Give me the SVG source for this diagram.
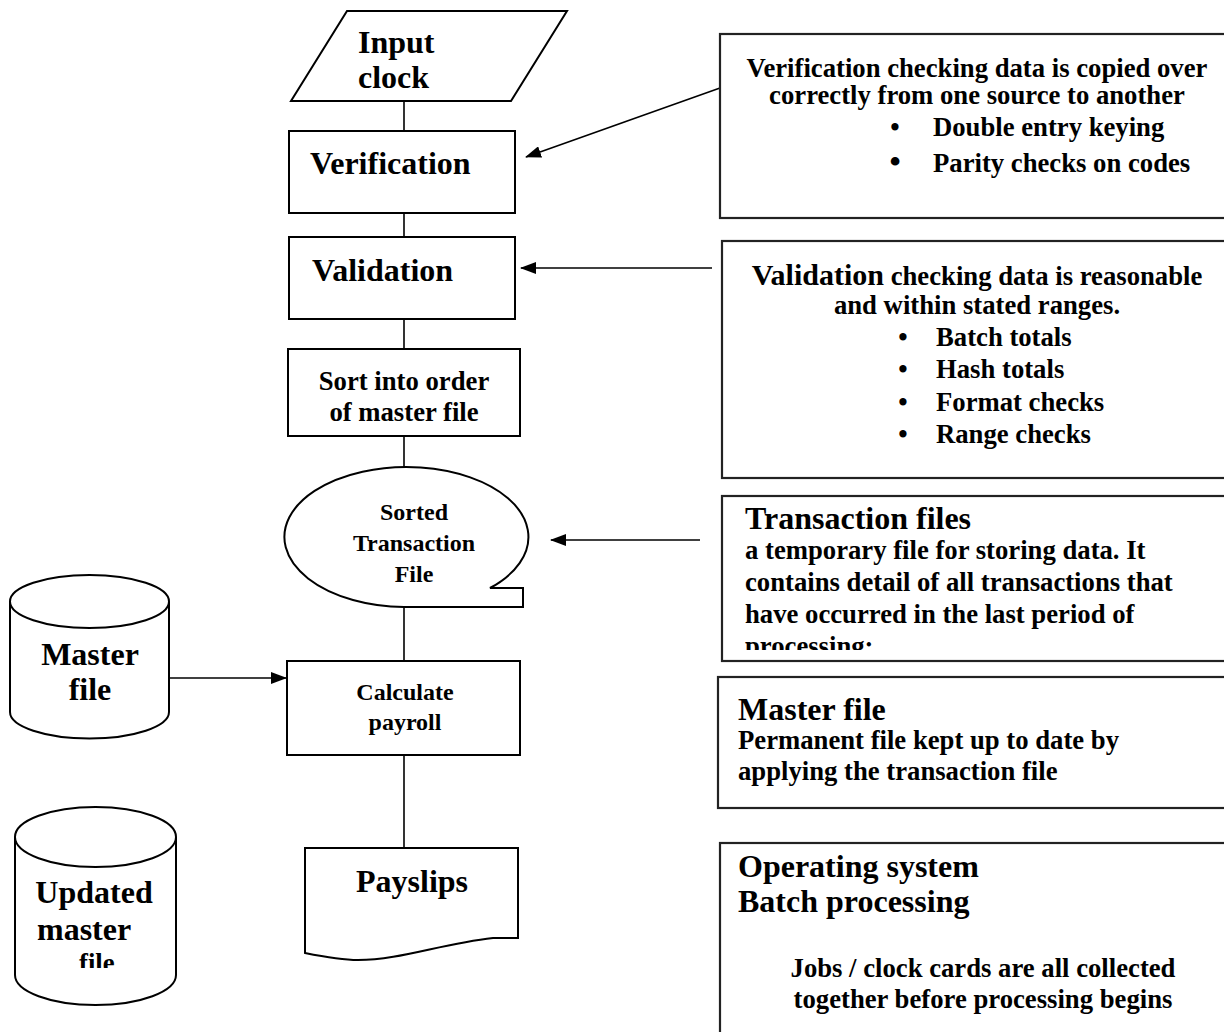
<svg xmlns="http://www.w3.org/2000/svg" width="1224" height="1032" viewBox="0 0 1224 1032">
<style>
.s{fill:#fff;stroke:#000;stroke-width:2}
.b{fill:#fff;stroke:#222;stroke-width:2.2}
.c{fill:none;stroke:#000;stroke-width:1.6}
text{font-family:"Liberation Serif","Times New Roman",serif;font-weight:bold;fill:#000}
.n{font-size:32px}
.m{font-size:26.7px}
.sm{font-size:24px}
.mid{text-anchor:middle}
</style>
<defs>
<marker id="ah" markerWidth="16" markerHeight="12" refX="15" refY="6" orient="auto" markerUnits="userSpaceOnUse">
<path d="M0,0 L16,6 L0,12 Z" fill="#000"/>
</marker>
<clipPath id="clipUpd"><rect x="0" y="800" width="200" height="168"/></clipPath>
<clipPath id="clipTr"><rect x="700" y="490" width="524" height="160"/></clipPath>
</defs>
<rect width="1224" height="1032" fill="#fff"/>

<g id="connectors">
<line class="c" x1="404" y1="101" x2="404" y2="131"/>
<line class="c" x1="404" y1="213" x2="404" y2="237"/>
<line class="c" x1="404" y1="319" x2="404" y2="349"/>
<line class="c" x1="404" y1="436" x2="404" y2="467"/>
<line class="c" x1="404" y1="607" x2="404" y2="661"/>
<line class="c" x1="404" y1="755" x2="404" y2="848"/>
<line class="c" x1="170" y1="678" x2="286" y2="678" marker-end="url(#ah)"/>
<line class="c" x1="720" y1="88" x2="526" y2="157" marker-end="url(#ah)"/>
<line class="c" x1="712" y1="268" x2="521" y2="268" marker-end="url(#ah)"/>
<line class="c" x1="700" y1="540" x2="551" y2="540" marker-end="url(#ah)"/>
</g>

<g id="input-clock">
<polygon class="s" points="347,11 567,11 511,101 291,101"/>
<text class="n" x="358" y="53">Input</text>
<text class="n" x="358" y="88">clock</text>
</g>

<g id="verification">
<rect class="s" x="289" y="131" width="226" height="82"/>
<text class="n" x="310" y="174">Verification</text>
</g>

<g id="validation">
<rect class="s" x="289" y="237" width="226" height="82"/>
<text class="n" x="312" y="281">Validation</text>
</g>

<g id="sort">
<rect class="s" x="288" y="349" width="232" height="87"/>
<text class="m mid" x="404" y="390">Sort into order</text>
<text class="m mid" x="404" y="421">of master file</text>
</g>

<g id="sorted-transaction-file">
<path class="s" d="M404,607 A122,70 0 1 1 490,588 L523,588 L523,607 Z"/>
<text class="sm mid" x="414" y="520">Sorted</text>
<text class="sm mid" x="414" y="551">Transaction</text>
<text class="sm mid" x="414" y="582">File</text>
</g>

<g id="master-file">
<path class="s" d="M10,601.5 L10,712 A79.5,26.5 0 0 0 169,712 L169,601.5"/>
<ellipse class="s" cx="89.5" cy="601.5" rx="79.5" ry="26.5"/>
<text class="n mid" x="90" y="665">Master</text>
<text class="n mid" x="90" y="700">file</text>
</g>

<g id="calculate-payroll">
<rect class="s" x="287" y="661" width="233" height="94"/>
<text class="sm mid" x="405" y="700">Calculate</text>
<text class="sm mid" x="405" y="730">payroll</text>
</g>

<g id="payslips">
<path class="s" d="M305,848 L518,848 L518,938 L493,938 C440,944 400,960 358,960 C340,960 320,956 305,953 Z"/>
<text class="n mid" x="412" y="892">Payslips</text>
</g>

<g id="updated-master-file">
<path class="s" d="M15,837 L15,975 A80.5,30 0 0 0 176,975 L176,837"/>
<ellipse class="s" cx="95.5" cy="837" rx="80.5" ry="30"/>
<text class="n mid" x="94" y="903">Updated</text>
<text class="n" x="37" y="940">master</text>
<g clip-path="url(#clipUpd)"><text class="m" x="79" y="972">file</text></g>
</g>

<g id="note-verification">
<rect class="b" x="720" y="34" width="600" height="184"/>
<text class="m mid" x="977" y="77">Verification checking data is copied over</text>
<text class="m mid" x="977" y="104">correctly from one source to another</text>
<text class="m mid" x="895" y="136">•</text>
<text class="m" x="933" y="136">Double entry keying</text>
<text class="m mid" x="895" y="172" style="font-size:32px">•</text>
<text class="m" x="933" y="172">Parity checks on codes</text>
</g>

<g id="note-validation">
<rect class="b" x="722" y="241" width="600" height="237"/>
<text class="m mid" x="977" y="285"><tspan style="font-size:30px">Validation</tspan> checking data is reasonable</text>
<text class="m mid" x="977" y="314">and within stated ranges.</text>
<text class="m mid" x="903" y="346">•</text>
<text class="m" x="936" y="346">Batch totals</text>
<text class="m mid" x="903" y="378">•</text>
<text class="m" x="936" y="378">Hash totals</text>
<text class="m mid" x="903" y="411">•</text>
<text class="m" x="936" y="411">Format checks</text>
<text class="m mid" x="903" y="443">•</text>
<text class="m" x="936" y="443">Range checks</text>
</g>

<g id="note-transaction">
<rect class="b" x="722" y="496" width="600" height="165"/>
<text class="n" x="745" y="529">Transaction files</text>
<g clip-path="url(#clipTr)">
<text class="m" x="745" y="559">a temporary file for storing data. It</text>
<text class="m" x="745" y="591">contains detail of all transactions that</text>
<text class="m" x="745" y="623">have occurred in the last period of</text>
<text class="m" x="745" y="655">processing:</text>
</g>
</g>

<g id="note-master">
<rect class="b" x="718" y="677" width="600" height="131"/>
<text class="n" x="738" y="720">Master file</text>
<text class="m" x="738" y="749">Permanent file kept up to date by</text>
<text class="m" x="738" y="780">applying the transaction file</text>
</g>

<g id="note-batch">
<rect class="b" x="720" y="843" width="600" height="300"/>
<text class="n" x="738" y="877">Operating system</text>
<text class="n" x="738" y="912">Batch processing</text>
<text class="m mid" x="983" y="977">Jobs / clock cards are all collected</text>
<text class="m mid" x="983" y="1008">together before processing begins</text>
</g>
</svg>
